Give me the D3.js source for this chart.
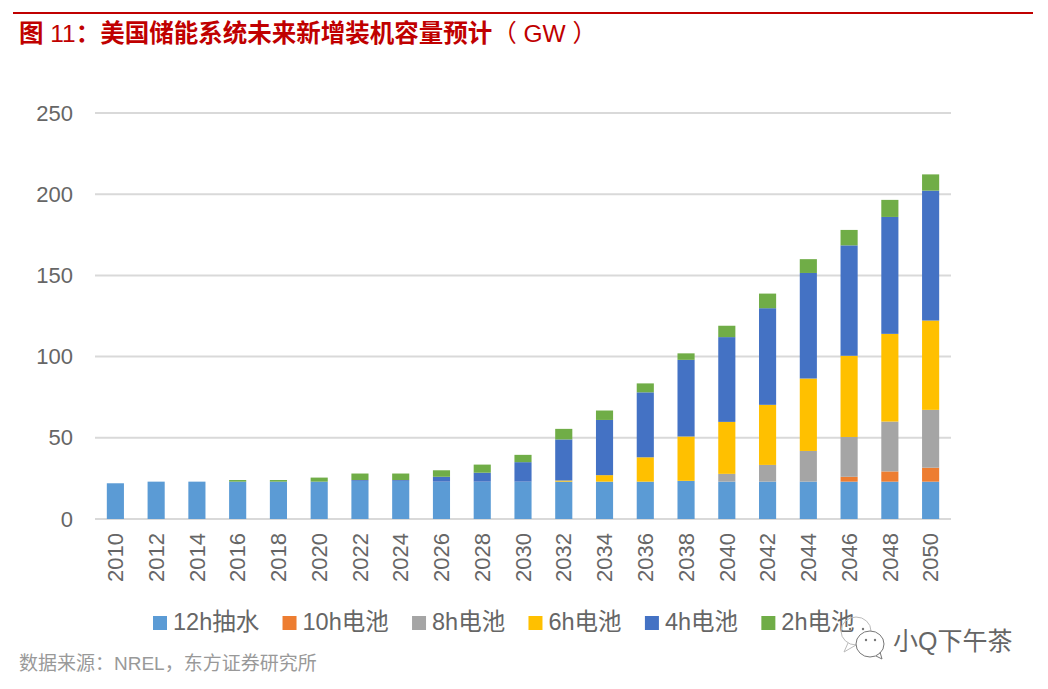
<!DOCTYPE html>
<html>
<head>
<meta charset="utf-8">
<script src="https://cdn.jsdelivr.net/npm/d3@7/dist/d3.min.js"></script>
<style>
  html, body { margin: 0; padding: 0; background: #fff; overflow: hidden; }
  text { font-family: "Liberation Sans", "Noto Sans CJK SC", sans-serif; }
</style>
</head>
<body>
<div id="chart"></div>
<script>
const years = ['2010', '2012', '2014', '2016', '2018', '2020', '2022', '2024', '2026', '2028', '2030',
  '2032', '2034', '2036', '2038', '2040', '2042', '2044', '2046', '2048', '2050']
const seriesNames = ['12h抽水', '10h电池', '8h电池', '6h电池', '4h电池', '2h电池']
const seriesColors = ['#5b9bd5', '#ed7d31', '#a5a5a5', '#ffc000', '#4472c4', '#70ad47']
const yTicks = [0, 50, 100, 150, 200, 250]

const pumped12h = [22, 23, 23, 23, 23, 23, 23.5, 23.5, 23, 23, 23, 23, 23, 23, 23.5, 23, 23, 23, 23, 23, 23]
const battery10h = [0, 0, 0, 0, 0, 0, 0, 0, 0, 0, 0, 0, 0, 0, 0, 0, 0, 0, 3, 6.3, 8.6]
const battery8h = [0, 0, 0, 0, 0, 0, 0, 0, 0, 0, 0, 0, 0, 0, 0, 4.8, 10.3, 18.9, 24.5, 30.7, 35.6]
const battery6h = [0, 0, 0, 0, 0, 0, 0, 0, 0, 0, 0, 0.7, 4, 15, 27.3, 32, 37, 44.6, 50, 54, 55]
const battery4h = [0, 0, 0, 0, 0, 0, 0.5, 0.5, 3, 5.5, 12, 25.3, 34, 40, 47.2, 52.2, 59.5, 65, 68, 72, 80]
const battery2h = [0, 0, 0, 1, 1, 2.5, 4, 4, 4, 5, 4.5, 6.5, 5.8, 5.5, 4, 7, 9, 8.5, 9.5, 10.5, 10]
const seriesValues = [pumped12h, battery10h, battery8h, battery6h, battery4h, battery2h]

const width = 1048
const height = 689
const plot = { left: 95, right: 951, top: 113, bottom: 519 }

const svg = d3.select('#chart')
  .append('svg')
  .attr('width', width)
  .attr('height', height)
  .style('display', 'block')

// header
svg.append('line')
  .attr('x1', 13).attr('x2', 1033)
  .attr('y1', 13).attr('y2', 13)
  .attr('stroke', '#c00000')
  .attr('stroke-width', 2)

// CJK is heavy in the title, the latin parts are regular weight
const title = svg.append('text')
  .attr('x', 19)
  .attr('y', 42)
  .attr('font-size', 24.5)
  .attr('fill', '#c00000')
title.append('tspan').attr('font-weight', 'bold').text('图')
title.append('tspan').text(' 11')
title.append('tspan').attr('font-weight', 'bold').text('：美国储能系统未来新增装机容量预计')
title.append('tspan').text('（ GW ）')

const x = d3.scaleBand()
  .domain(years)
  .range([plot.left, plot.right])
  .paddingInner(0.58)
  .paddingOuter(0.29)

const y = d3.scaleLinear()
  .domain([0, 250])
  .range([plot.bottom, plot.top])

// gridlines
svg.append('g')
  .selectAll('line')
  .data(yTicks)
  .enter()
  .append('line')
  .attr('x1', plot.left)
  .attr('x2', plot.right)
  .attr('y1', d => y(d))
  .attr('y2', d => y(d))
  .attr('stroke', '#d9d9d9')
  .attr('stroke-width', 2)

// stacked bars
const table = years.map((year, i) => {
  const row = { year }
  seriesNames.forEach((name, s) => { row[name] = seriesValues[s][i] })
  return row
})
const stacked = d3.stack().keys(seriesNames)(table)

svg.append('g')
  .selectAll('g')
  .data(stacked)
  .enter()
  .append('g')
  .attr('fill', (d, i) => seriesColors[i])
  .selectAll('rect')
  .data(d => d.filter(p => p[1] > p[0]))
  .enter()
  .append('rect')
  .attr('x', d => x(d.data.year))
  .attr('width', x.bandwidth())
  .attr('y', d => y(d[1]))
  .attr('height', d => y(d[0]) - y(d[1]))

// y axis
const yAxis = svg.append('g')
  .attr('transform', 'translate(' + plot.left + ',0)')
  .call(d3.axisLeft(y).tickValues(yTicks).tickSize(0).tickPadding(22))
yAxis.select('.domain').remove()
yAxis.selectAll('text')
  .attr('font-size', 22)
  .attr('font-family', '"Liberation Sans", sans-serif')
  .attr('fill', '#666')

// x axis, labels turned to read upwards
const xAxis = svg.append('g')
  .attr('transform', 'translate(0,' + plot.bottom + ')')
  .call(d3.axisBottom(x).tickSize(0))
xAxis.select('.domain').remove()
xAxis.selectAll('text')
  .attr('font-size', 22)
  .attr('font-family', '"Liberation Sans", sans-serif')
  .attr('fill', '#666')
  .attr('text-anchor', 'end')
  .attr('transform', 'rotate(-90)')
  .attr('x', -14)
  .attr('y', 0)
  .attr('dy', '0.35em')

// legend, laid out from the measured label widths
let legendX = 153
seriesNames.forEach((name, i) => {
  const item = svg.append('g').attr('transform', 'translate(' + legendX + ',0)')
  item.append('rect')
    .attr('y', 616)
    .attr('width', 14)
    .attr('height', 14)
    .attr('fill', seriesColors[i])
  const label = item.append('text')
    .attr('x', 20)
    .attr('y', 630)
    .attr('font-size', 23.5)
    .attr('fill', '#666')
    .text(name)
  legendX += 20 + label.node().getComputedTextLength() + 23.3
})

// source note
svg.append('text')
  .attr('x', 19)
  .attr('y', 670)
  .attr('font-size', 19)
  .attr('fill', '#999')
  .text('数据来源：NREL，东方证券研究所')

// watermark: two chat bubbles, the front one over the back one
const mark = svg.append('g')
  .attr('fill', 'none')
  .attr('stroke-width', 1)
mark.append('path')
  .attr('d', 'M848,643 L844,652 L856,645')
  .attr('stroke', '#bbb')
mark.append('ellipse').attr('cx', 856).attr('cy', 631).attr('rx', 15).attr('ry', 14)
  .attr('stroke', '#bbb')
mark.append('ellipse').attr('cx', 870).attr('cy', 644).attr('rx', 14).attr('ry', 13)
  .attr('stroke', '#777')
  .attr('fill', '#fff')
mark.append('path')
  .attr('d', 'M876,656 L882,659 L880,652')
  .attr('stroke', '#777')
mark.selectAll('circle')
  .data([[850, 629], [863, 629], [866, 640], [875, 640]])
  .enter()
  .append('circle')
  .attr('cx', d => d[0])
  .attr('cy', d => d[1])
  .attr('r', 1.2)
  .attr('fill', '#777')

svg.append('text')
  .attr('x', 893)
  .attr('y', 650)
  .attr('font-size', 25)
  .attr('fill', '#666')
  .attr('stroke', '#fff')
  .attr('stroke-width', 1.5)
  .attr('paint-order', 'stroke')
  .text('小Q下午茶')
</script>
</body>
</html>
